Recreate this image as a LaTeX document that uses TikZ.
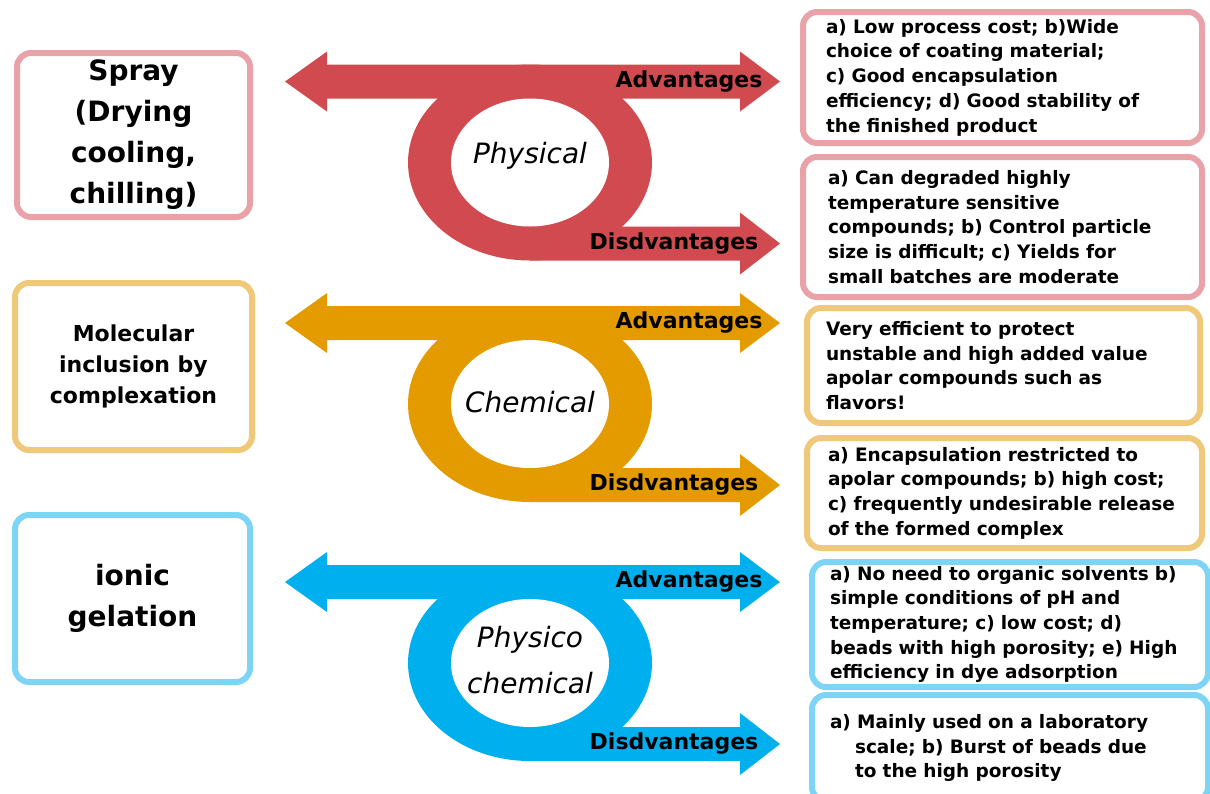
\documentclass[tikz,border=0pt]{standalone}
\usepackage{fontspec}
\usepackage{tikz}
\setmainfont{DejaVu Sans}
\usetikzlibrary{calc}
\definecolor{rdarrow}{RGB}{208,74,80}
\definecolor{orarrow}{RGB}{228,155,0}
\definecolor{blarrow}{RGB}{0,176,238}
\definecolor{rdline}{RGB}{232,162,168}
\definecolor{orline}{RGB}{240,200,122}
\definecolor{blline}{RGB}{126,212,244}
\newcommand{\ringarrow}[1]{%
  \fill[#1] (530,81) ellipse (122 and 98);
  \fill[#1] (285,0) -- (327,-30) -- (327,-17) -- (740,-17) -- (740,-30) -- (780,0) -- (740,30) -- (740,17) -- (327,17) -- (327,30) -- cycle;
  \fill[#1] (530,145) -- (740,145) -- (740,131) -- (780,162) -- (740,193) -- (740,179) -- (530,179) -- cycle;
  \fill[white] (530,81) ellipse (79 and 64);}
\tikzstyle{every node}=[inner sep=0pt]
\tikzset{
  lbox/.style={rounded corners=14, line width=6, align=center, font=\fontsize{28}{41}\selectfont\bfseries},
  rbox/.style={rounded corners=14, line width=6, align=left, font=\fontsize{18.5}{24.7}\selectfont\bfseries},
  alabel/.style={font=\fontsize{22}{22}\selectfont\bfseries},
  ctext/.style={align=center, font=\fontsize{28}{46}\selectfont\itshape}
}
\begin{document}
\begin{tikzpicture}[line cap=round,line join=round,x=1pt,y=-1pt]
\useasboundingbox (0,0) rectangle (1210,793);

% physical
\begin{scope}[shift={(0,81.5)}]
  \ringarrow{rdarrow}
  \node[alabel] (padv) at (689,0) {Advantages};
  \node[alabel] (pdis) at (674,162) {Disdvantages};
  \node[ctext] (phys) at (530,74) {Physical};
\end{scope}

% chemical
\begin{scope}[shift={(0,323)}]
  \ringarrow{orarrow}
  \node[alabel] (cadv) at (689,0) {Advantages};
  \node[alabel] (cdis) at (674,162) {Disdvantages};
  \node[ctext] (chem) at (530,79) {Chemical};
\end{scope}

% physico chemical
\begin{scope}[shift={(0,582)}]
  \ringarrow{blarrow}
  \node[alabel] (badv) at (689,0) {Advantages};
  \node[alabel] (bdis) at (674,162) {Disdvantages};
  \node[ctext] (phch) at (530,78) {Physico\\chemical};
\end{scope}

% methods
\node[lbox, draw=rdline, minimum width=233, minimum height=164] (spray) at (133.5,135) {Spray\\(Drying\\cooling,\\chilling)};
\node[lbox, draw=orline, minimum width=237, minimum height=167, font=\fontsize{22}{31}\selectfont\bfseries] (incl) at (133.5,366.5) {Molecular\\inclusion by\\complexation};
\node[lbox, draw=blline, minimum width=235, minimum height=167] (ionic) at (132.5,598.5) {ionic\\gelation};

% advantages / disadvantages
\node[rbox, draw=rdline, inner xsep=23, text width=353, minimum height=131] (padvbox) at (1002.5,77.5) {a) Low process cost; b)Wide\\choice of coating material;\\c) Good encapsulation\\efficiency; d) Good stability of\\the finished product};
\node[rbox, draw=rdline, inner xsep=25, text width=349, minimum height=140] (pdisbox) at (1002.5,227) {a) Can degraded highly\\temperature sensitive\\compounds; b) Control particle\\size is difficult; c) Yields for\\small batches are moderate};
\node[rbox, draw=orline, inner xsep=19, text width=355, minimum height=115] (cadvbox) at (1003.5,365.5) {Very efficient to protect\\unstable and high added value\\apolar compounds such as\\flavors!};
\node[rbox, draw=orline, inner xsep=21, text width=353, minimum height=110] (cdisbox) at (1004.5,493) {a) Encapsulation restricted to\\apolar compounds; b) high cost;\\c) frequently undesirable release\\of the formed complex};
\node[rbox, draw=blline, inner xsep=18, text width=360, minimum height=125] (badvbox) at (1010,624.5) {a) No need to organic solvents b)\\simple conditions of pH and\\temperature; c) low cost; d)\\beads with high porosity; e) High\\efficiency in dye adsorption};
\node[rbox, draw=blline, inner xsep=18, text width=360, minimum height=106] (bdisbox) at (1010,748) {a) Mainly used on a laboratory\\\hspace*{25pt}scale; b) Burst of beads due\\\hspace*{25pt}to the high porosity};
\end{tikzpicture}
\end{document}
